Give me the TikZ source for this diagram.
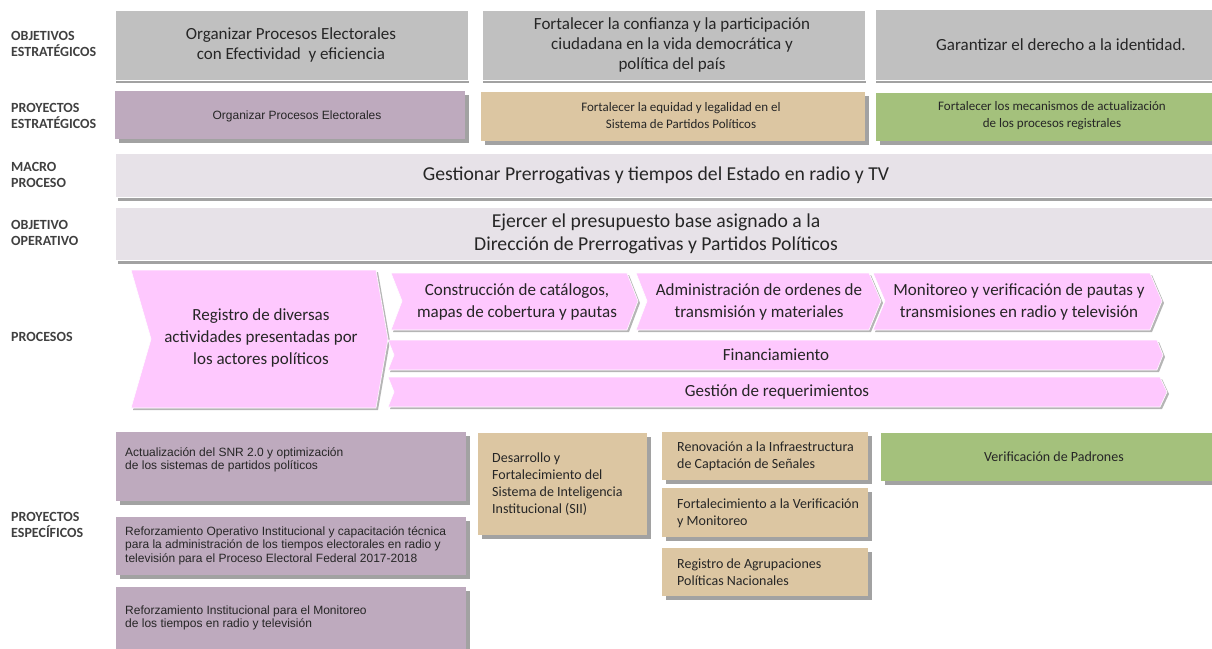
\documentclass[tikz,border=0pt]{standalone}
\usepackage{fontspec}
\setmainfont{Carlito}
\newfontfamily\arialf{Liberation Sans}
\usetikzlibrary{shadows}
\definecolor{objc}{HTML}{C0C0C0}
\definecolor{purc}{HTML}{BEAABE}
\definecolor{tanc}{HTML}{DCC6A2}
\definecolor{grnc}{HTML}{A4C17C}
\definecolor{lavc}{HTML}{E7E2E8}
\definecolor{pinkc}{HTML}{FEC8FE}
\definecolor{shc}{HTML}{A2A2A2}
\definecolor{lblc}{HTML}{404040}
\definecolor{txtc}{HTML}{262626}
\begin{document}
\begin{tikzpicture}[x=1pt,y=-1pt,
  boxbase/.style={rectangle, inner sep=0pt, outer sep=0pt, anchor=north west},
  sh/.style={drop shadow={shadow xshift=4pt, shadow yshift=-4pt, fill=shc, opacity=1}},
  objbox/.style={boxbase, fill=objc, draw=white, line width=0.8pt,
     drop shadow={shadow xshift=1pt, shadow yshift=-3pt, fill=shc, opacity=1}},
  lavbox/.style={boxbase, fill=lavc, draw=white, line width=0.8pt,
     drop shadow={shadow xshift=3pt, shadow yshift=-4pt, fill=shc, opacity=1}},
  purbox/.style={boxbase, fill=purc, sh},
  tanbox/.style={boxbase, fill=tanc, sh},
  grnbox/.style={boxbase, fill=grnc, sh},
  chev/.style={fill=pinkc, draw=white, line width=0.6pt,
     drop shadow={shadow xshift=2pt, shadow yshift=-2pt, fill=shc!80, opacity=1}},
  lbl/.style={font=\bfseries\fontsize{14}{16.5}\selectfont, text=lblc, align=left, anchor=west, inner sep=0pt},
  tbig/.style={font=\fontsize{17}{20}\selectfont, text=txtc, align=center, inner sep=0pt},
  thuge/.style={font=\fontsize{19.7}{23.5}\selectfont, text=txtc, align=center, inner sep=0pt},
  tproc/.style={font=\fontsize{17}{22}\selectfont, text=txtc, align=center, inner sep=0pt},
  tmid/.style={font=\fontsize{13}{17}\selectfont, text=txtc, align=center, inner sep=0pt},
  tarial/.style={font=\arialf\fontsize{12}{13.5}\selectfont, text=txtc, align=left, anchor=west, inner sep=0pt},
  ttan/.style={font=\fontsize{14}{17}\selectfont, text=txtc, align=left, anchor=west, inner sep=0pt}
]
\useasboundingbox (0,0) rectangle (1212,648);

% ---------- row labels ----------
\node[lbl] (l1) at (11,44) {OBJETIVOS\\ESTRATÉGICOS};
\node[lbl] (l2) at (11,116) {PROYECTOS\\ESTRATÉGICOS};
\node[lbl] (l3) at (11,175) {MACRO\\PROCESO};
\node[lbl] (l4) at (11,233) {OBJETIVO\\OPERATIVO};
\node[lbl] (l5) at (11,337) {PROCESOS};
\node[lbl] (l6) at (11,525) {PROYECTOS\\ESPECÍFICOS};

% ---------- objetivos estrategicos ----------
\node[objbox, minimum width=353pt, minimum height=70pt] (o1) at (115,10) {};
\node[objbox, minimum width=383pt, minimum height=70pt] (o2) at (482,10) {};
\node[objbox, minimum width=345pt, minimum height=71pt] (o3) at (875,9) {};
\node[tbig] (o1t) at (291,45) {Organizar Procesos Electorales\\con Efectividad\ \ y eficiencia};
\node[tbig] (o2t) at (672,45) {Fortalecer la confianza y la participación\\ciudadana en la vida democrática y\\política del país};
\node[tbig] (o3t) at (1061,45) {Garantizar el derecho a la identidad.};

% ---------- proyectos estrategicos ----------
\node[purbox, minimum width=350pt, minimum height=48pt] (p1) at (115,91) {};
\node[tanbox, minimum width=384pt, minimum height=49pt] (p2) at (481,92) {};
\node[grnbox, minimum width=345pt, minimum height=48pt] (p3) at (876,93) {};
\node[font=\arialf\fontsize{12}{14}\selectfont, text=txtc, inner sep=0pt] (p1t) at (297,116) {Organizar Procesos Electorales};
\node[tmid] (p2t) at (681,116) {Fortalecer la equidad y legalidad en el\\Sistema de Partidos Políticos};
\node[tmid] (p3t) at (1052,116) {Fortalecer los mecanismos de actualización\\de los procesos registrales};

% ---------- macro proceso / objetivo operativo ----------
\node[lavbox, minimum width=1105pt, minimum height=44pt] (m) at (115,153) {};
\node[thuge] (mt) at (656,175) {Gestionar Prerrogativas y tiempos del Estado en radio y TV};
\node[lavbox, minimum width=1105pt, minimum height=53pt] (oo) at (115,207) {};
\node[thuge] (oot) at (656,234) {Ejercer el presupuesto base asignado a la\\Dirección de Prerrogativas y Partidos Políticos};

% ---------- procesos ----------
\path[chev] (131,270) -- (376,270) -- (388,339) -- (376,408) -- (131,408) -- (151,339) -- cycle;
\node[tproc] (r1) at (261,338) {Registro de diversas\\actividades presentadas por\\los actores políticos};
\path[chev] (391,273) -- (627,273) -- (638,301) -- (627,330) -- (391,330) -- (402,301) -- cycle;
\node[tproc] (r2) at (517,302) {Construcción de catálogos,\\mapas de cobertura y pautas};
\path[chev] (636,273) -- (869,273) -- (881,301) -- (869,330) -- (636,330) -- (647,301) -- cycle;
\node[tproc] (r3) at (759,302) {Administración de ordenes de\\transmisión y materiales};
\path[chev] (873,273) -- (1150,273) -- (1162,301) -- (1150,330) -- (873,330) -- (885,301) -- cycle;
\node[tproc] (r4) at (1019,302) {Monitoreo y verificación de pautas y\\transmisiones en radio y televisión};
\path[chev] (388,340) -- (1157,340) -- (1163,355) -- (1157,370) -- (388,370) -- (394,355) -- cycle;
\node[tproc] (r5) at (776,355) {Financiamiento};
\path[chev] (388,377) -- (1160,377) -- (1167,392) -- (1160,407) -- (388,407) -- (394,392) -- cycle;
\node[tproc] (r6) at (777,392) {Gestión de requerimientos};

% ---------- proyectos especificos ----------
\node[purbox, minimum width=350pt, minimum height=69pt] (e1) at (116,432) {};
\node[tarial] (e1t) at (125,460) {Actualización del SNR 2.0 y optimización\\de los sistemas de partidos políticos};
\node[purbox, minimum width=350pt, minimum height=58pt] (e2) at (116,517) {};
\node[tarial] (e2t) at (125,545.5) {Reforzamiento Operativo Institucional y capacitación técnica\\para la administración de los tiempos electorales en radio y\\televisión para el Proceso Electoral Federal 2017-2018};
\node[purbox, minimum width=350pt, minimum height=75pt] (e3) at (116,587) {};
\node[tarial] (e3t) at (125,618) {Reforzamiento Institucional para el Monitoreo\\de los tiempos en radio y televisión};

\node[tanbox, minimum width=169pt, minimum height=102pt] (s1) at (478,433) {};
\node[ttan] (s1t) at (492,484.5) {Desarrollo y\\Fortalecimiento del\\Sistema de Inteligencia\\Institucional (SII)};
\node[tanbox, minimum width=206pt, minimum height=48pt] (s2) at (662,432) {};
\node[ttan] (s2t) at (677,456.5) {Renovación a la Infraestructura\\de Captación de Señales};
\node[tanbox, minimum width=206pt, minimum height=49pt] (s3) at (662,488) {};
\node[ttan] (s3t) at (677,513.5) {Fortalecimiento a la Verificación\\y Monitoreo};
\node[tanbox, minimum width=206pt, minimum height=48pt] (s4) at (662,548) {};
\node[ttan] (s4t) at (677,572.5) {Registro de Agrupaciones\\Políticas Nacionales};

\node[grnbox, minimum width=340pt, minimum height=48pt] (g1) at (881,433) {};
\node[font=\fontsize{14}{17}\selectfont, text=txtc, inner sep=0pt] (g1t) at (1054,457) {Verificación de Padrones};
\end{tikzpicture}
\end{document}
